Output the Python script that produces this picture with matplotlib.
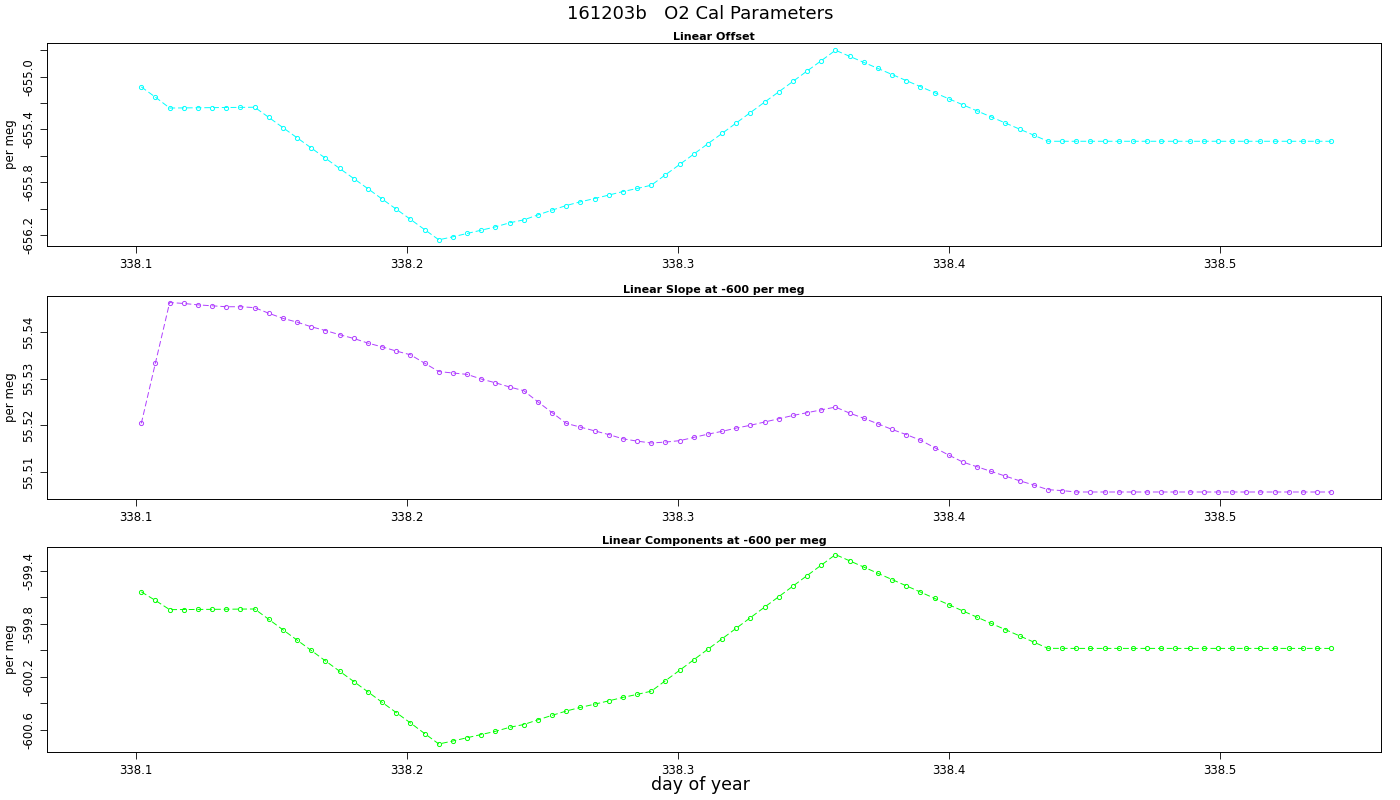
import numpy as np
import matplotlib.pyplot as plt

# sample times: 7.5 min cadence starting 338.102
T0 = 338.1020
DT = 0.005227
N_PTS = 85

offset = [-655.078, -655.156, -655.238, -655.237, -655.236, -655.235, -655.234, -655.233, -655.232,
          -655.309, -655.387, -655.464, -655.541, -655.619, -655.696, -655.773, -655.850, -655.928,
          -656.005, -656.082, -656.160, -656.237,
          -656.214, -656.189, -656.164, -656.139, -656.108, -656.086, -656.048, -656.012, -655.977,
          -655.949, -655.924, -655.898, -655.871, -655.848, -655.823,
          -655.744, -655.666, -655.587, -655.508, -655.430, -655.351, -655.272, -655.193, -655.115,
          -655.036, -654.957, -654.879, -654.800,
          -654.846, -654.892, -654.938, -654.984, -655.030, -655.076, -655.122, -655.168, -655.214,
          -655.260, -655.306, -655.352, -655.398, -655.444, -655.490] + [-655.490] * 20

slope = [55.5204, 55.5334, 55.5463, 55.5461, 55.5458, 55.5456, 55.5454, 55.5454, 55.5452,
         55.5440, 55.5429, 55.5421, 55.5411, 55.5403, 55.5394, 55.5386, 55.5376, 55.5368,
         55.5359, 55.5351, 55.5333, 55.5315, 55.5312, 55.5309, 55.5299, 55.5291, 55.5282,
         55.5274, 55.5250, 55.5227, 55.5204, 55.5196, 55.5188, 55.5180, 55.5171, 55.5166,
         55.5162, 55.5164, 55.5167, 55.5174, 55.5181, 55.5187, 55.5194, 55.5200, 55.5207,
         55.5214, 55.5221, 55.5227, 55.5233, 55.5239, 55.5226, 55.5215, 55.5203, 55.5191,
         55.5180, 55.5168, 55.5152, 55.5136, 55.5121, 55.5111, 55.5101, 55.5091, 55.5081,
         55.5072, 55.5062, 55.5060] + [55.5057] * 19

doy = T0 + DT * np.arange(N_PTS)
offset = np.array(offset)
slope = np.array(slope)
components = offset + slope  # offset + slope term at -600 per meg

panels = [
    ("Linear Offset", offset, "#00FFFF", (-656.284, -654.745),
     np.arange(-656.2, -654.75, 0.2), [-655.0, -655.4, -655.8, -656.2], "{:.1f}"),
    ("Linear Slope at -600 per meg", slope, "#B040FF", (55.5042, 55.5477),
     [55.51, 55.52, 55.53, 55.54], [55.51, 55.52, 55.53, 55.54], "{:.2f}"),
    ("Linear Components at -600 per meg", components, "#00FF00", (-600.766, -599.219),
     np.arange(-600.6, -599.3, 0.2), [-599.4, -599.8, -600.2, -600.6], "{:.1f}"),
]

fig = plt.figure(figsize=(14, 8), dpi=100)
W, H = 1400, 800
boxes = [(43, 246), (296, 499), (547, 752)]
xticks = [338.1, 338.2, 338.3, 338.4, 338.5]

for (ttl, vals, col, ylim, yt, ylab, fmt), (top, bot) in zip(panels, boxes):
    ax = fig.add_axes([47 / W, 1 - bot / H, (1381 - 47) / W, (bot - top) / H])
    ax.plot(doy, vals, color=col, lw=0.7, ls=(0, (6, 3)), marker="o", ms=3,
            mfc="none", mec=col, mew=0.7)
    ax.set_xlim(338.0672, 338.5594)
    ax.set_ylim(*ylim)
    ax.set_xticks(xticks)
    ax.set_xticklabels([f"{x:.1f}" for x in xticks], fontsize=8.5)
    ax.set_yticks(yt)
    ax.set_yticklabels([fmt.format(v) if any(abs(v - l) < 1e-6 for l in ylab) else "" for v in yt],
                       fontsize=8.5, rotation=90, va="center")
    ax.tick_params(length=5, width=0.6)
    ax.set_title(ttl, fontsize=8, fontweight="bold", pad=2)
    ax.set_ylabel("per meg", fontsize=8.5, labelpad=4)
    for s in ax.spines.values():
        s.set_linewidth(0.7)

fig.text(0.5, 1 - 14 / H, "161203b   O2 Cal Parameters", ha="center", va="center", fontsize=13)
fig.text(0.5, 1 - 785 / H, "day of year", ha="center", va="center", fontsize=12.5)
fig.savefig("out.png", dpi=100)
